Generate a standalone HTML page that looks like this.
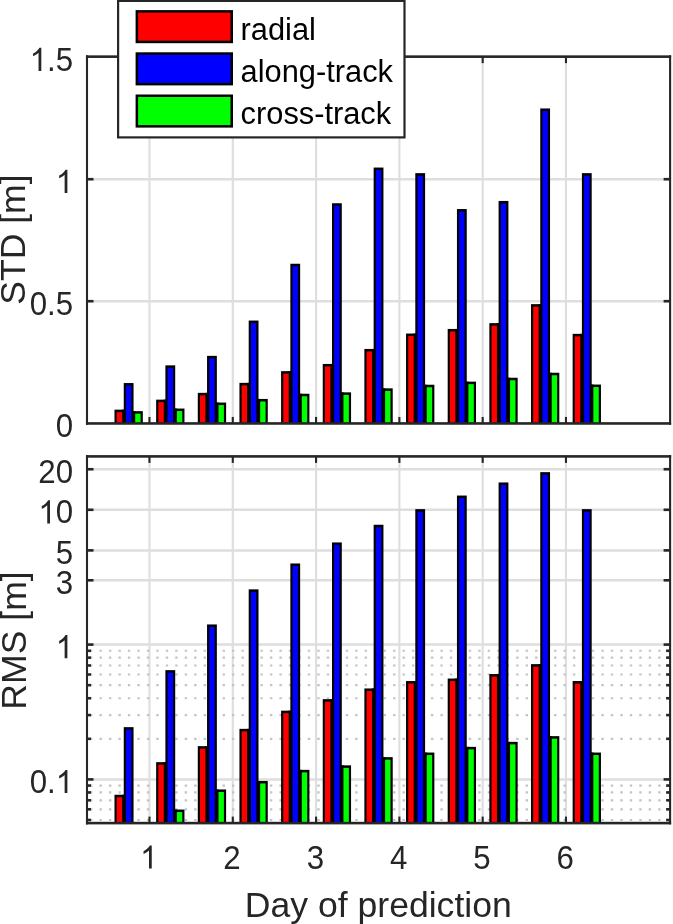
<!DOCTYPE html>
<html><head><meta charset="utf-8"><style>
html,body{margin:0;padding:0;background:#fff;}
body{width:673px;height:924px;overflow:hidden;font-family:"Liberation Sans",sans-serif;}
svg{display:block;will-change:transform;}
</style></head><body>
<svg width="673" height="924" viewBox="0 0 673 924">
<rect width="673" height="924" fill="#fff"/>
<line x1="149.47" y1="57.2" x2="149.47" y2="423.2" stroke="#dedede" stroke-width="2.1"/>
<line x1="232.78" y1="57.2" x2="232.78" y2="423.2" stroke="#dedede" stroke-width="2.1"/>
<line x1="316.07" y1="57.2" x2="316.07" y2="423.2" stroke="#dedede" stroke-width="2.1"/>
<line x1="399.38" y1="57.2" x2="399.38" y2="423.2" stroke="#dedede" stroke-width="2.1"/>
<line x1="482.68" y1="57.2" x2="482.68" y2="423.2" stroke="#dedede" stroke-width="2.1"/>
<line x1="565.97" y1="57.2" x2="565.97" y2="423.2" stroke="#dedede" stroke-width="2.1"/>
<line x1="87" y1="301.2" x2="670.1" y2="301.2" stroke="#dedede" stroke-width="2.5"/>
<line x1="87" y1="179.2" x2="670.1" y2="179.2" stroke="#dedede" stroke-width="2.5"/>
<rect x="114.49" y="409.65" width="9.8" height="13.55" fill="#000"/>
<rect x="123.75" y="383.05" width="9.8" height="40.15" fill="#000"/>
<rect x="133.01" y="411.15" width="9.8" height="12.05" fill="#000"/>
<rect x="121.89" y="409.65" width="4.26" height="13.55" fill="#000"/>
<rect x="131.15" y="411.15" width="4.26" height="12.05" fill="#000"/>
<rect x="116.69" y="412.15" width="5.4" height="11.05" fill="#ff0000"/>
<rect x="125.95" y="385.55" width="5.4" height="37.65" fill="#0000ff"/>
<rect x="135.21" y="413.65" width="5.4" height="9.55" fill="#00ff00"/>
<rect x="156.14" y="399.65" width="9.8" height="23.55" fill="#000"/>
<rect x="165.4" y="365.35" width="9.8" height="57.85" fill="#000"/>
<rect x="174.66" y="408.55" width="9.8" height="14.65" fill="#000"/>
<rect x="163.54" y="399.65" width="4.26" height="23.55" fill="#000"/>
<rect x="172.8" y="408.55" width="4.26" height="14.65" fill="#000"/>
<rect x="158.34" y="402.15" width="5.4" height="21.05" fill="#ff0000"/>
<rect x="167.6" y="367.85" width="5.4" height="55.35" fill="#0000ff"/>
<rect x="176.86" y="411.05" width="5.4" height="12.15" fill="#00ff00"/>
<rect x="197.79" y="392.85" width="9.8" height="30.35" fill="#000"/>
<rect x="207.05" y="355.85" width="9.8" height="67.35" fill="#000"/>
<rect x="216.31" y="402.55" width="9.8" height="20.65" fill="#000"/>
<rect x="205.19" y="392.85" width="4.26" height="30.35" fill="#000"/>
<rect x="214.45" y="402.55" width="4.26" height="20.65" fill="#000"/>
<rect x="199.99" y="395.35" width="5.4" height="27.85" fill="#ff0000"/>
<rect x="209.25" y="358.35" width="5.4" height="64.85" fill="#0000ff"/>
<rect x="218.51" y="405.05" width="5.4" height="18.15" fill="#00ff00"/>
<rect x="239.44" y="382.85" width="9.8" height="40.35" fill="#000"/>
<rect x="248.7" y="320.55" width="9.8" height="102.65" fill="#000"/>
<rect x="257.96" y="398.95" width="9.8" height="24.25" fill="#000"/>
<rect x="246.84" y="382.85" width="4.26" height="40.35" fill="#000"/>
<rect x="256.1" y="398.95" width="4.26" height="24.25" fill="#000"/>
<rect x="241.64" y="385.35" width="5.4" height="37.85" fill="#ff0000"/>
<rect x="250.9" y="323.05" width="5.4" height="100.15" fill="#0000ff"/>
<rect x="260.16" y="401.45" width="5.4" height="21.75" fill="#00ff00"/>
<rect x="281.09" y="371.15" width="9.8" height="52.05" fill="#000"/>
<rect x="290.35" y="263.75" width="9.8" height="159.45" fill="#000"/>
<rect x="299.61" y="393.75" width="9.8" height="29.45" fill="#000"/>
<rect x="288.49" y="371.15" width="4.26" height="52.05" fill="#000"/>
<rect x="297.75" y="393.75" width="4.26" height="29.45" fill="#000"/>
<rect x="283.29" y="373.65" width="5.4" height="49.55" fill="#ff0000"/>
<rect x="292.55" y="266.25" width="5.4" height="156.95" fill="#0000ff"/>
<rect x="301.81" y="396.25" width="5.4" height="26.95" fill="#00ff00"/>
<rect x="322.74" y="363.95" width="9.8" height="59.25" fill="#000"/>
<rect x="332" y="203.25" width="9.8" height="219.95" fill="#000"/>
<rect x="341.26" y="392.35" width="9.8" height="30.85" fill="#000"/>
<rect x="330.14" y="363.95" width="4.26" height="59.25" fill="#000"/>
<rect x="339.4" y="392.35" width="4.26" height="30.85" fill="#000"/>
<rect x="324.94" y="366.45" width="5.4" height="56.75" fill="#ff0000"/>
<rect x="334.2" y="205.75" width="5.4" height="217.45" fill="#0000ff"/>
<rect x="343.46" y="394.85" width="5.4" height="28.35" fill="#00ff00"/>
<rect x="364.39" y="348.95" width="9.8" height="74.25" fill="#000"/>
<rect x="373.65" y="167.55" width="9.8" height="255.65" fill="#000"/>
<rect x="382.91" y="388.35" width="9.8" height="34.85" fill="#000"/>
<rect x="371.79" y="348.95" width="4.26" height="74.25" fill="#000"/>
<rect x="381.05" y="388.35" width="4.26" height="34.85" fill="#000"/>
<rect x="366.59" y="351.45" width="5.4" height="71.75" fill="#ff0000"/>
<rect x="375.85" y="170.05" width="5.4" height="253.15" fill="#0000ff"/>
<rect x="385.11" y="390.85" width="5.4" height="32.35" fill="#00ff00"/>
<rect x="406.04" y="333.55" width="9.8" height="89.65" fill="#000"/>
<rect x="415.3" y="173.15" width="9.8" height="250.05" fill="#000"/>
<rect x="424.56" y="384.75" width="9.8" height="38.45" fill="#000"/>
<rect x="413.44" y="333.55" width="4.26" height="89.65" fill="#000"/>
<rect x="422.7" y="384.75" width="4.26" height="38.45" fill="#000"/>
<rect x="408.24" y="336.05" width="5.4" height="87.15" fill="#ff0000"/>
<rect x="417.5" y="175.65" width="5.4" height="247.55" fill="#0000ff"/>
<rect x="426.76" y="387.25" width="5.4" height="35.95" fill="#00ff00"/>
<rect x="447.69" y="328.95" width="9.8" height="94.25" fill="#000"/>
<rect x="456.95" y="209.05" width="9.8" height="214.15" fill="#000"/>
<rect x="466.21" y="381.65" width="9.8" height="41.55" fill="#000"/>
<rect x="455.09" y="328.95" width="4.26" height="94.25" fill="#000"/>
<rect x="464.35" y="381.65" width="4.26" height="41.55" fill="#000"/>
<rect x="449.89" y="331.45" width="5.4" height="91.75" fill="#ff0000"/>
<rect x="459.15" y="211.55" width="5.4" height="211.65" fill="#0000ff"/>
<rect x="468.41" y="384.15" width="5.4" height="39.05" fill="#00ff00"/>
<rect x="489.34" y="323.15" width="9.8" height="100.05" fill="#000"/>
<rect x="498.6" y="200.95" width="9.8" height="222.25" fill="#000"/>
<rect x="507.86" y="377.75" width="9.8" height="45.45" fill="#000"/>
<rect x="496.74" y="323.15" width="4.26" height="100.05" fill="#000"/>
<rect x="506" y="377.75" width="4.26" height="45.45" fill="#000"/>
<rect x="491.54" y="325.65" width="5.4" height="97.55" fill="#ff0000"/>
<rect x="500.8" y="203.45" width="5.4" height="219.75" fill="#0000ff"/>
<rect x="510.06" y="380.25" width="5.4" height="42.95" fill="#00ff00"/>
<rect x="530.99" y="304.15" width="9.8" height="119.05" fill="#000"/>
<rect x="540.25" y="108.45" width="9.8" height="314.75" fill="#000"/>
<rect x="549.51" y="372.75" width="9.8" height="50.45" fill="#000"/>
<rect x="538.39" y="304.15" width="4.26" height="119.05" fill="#000"/>
<rect x="547.65" y="372.75" width="4.26" height="50.45" fill="#000"/>
<rect x="533.19" y="306.65" width="5.4" height="116.55" fill="#ff0000"/>
<rect x="542.45" y="110.95" width="5.4" height="312.25" fill="#0000ff"/>
<rect x="551.71" y="375.25" width="5.4" height="47.95" fill="#00ff00"/>
<rect x="572.64" y="333.85" width="9.8" height="89.35" fill="#000"/>
<rect x="581.9" y="173.15" width="9.8" height="250.05" fill="#000"/>
<rect x="591.16" y="384.55" width="9.8" height="38.65" fill="#000"/>
<rect x="580.04" y="333.85" width="4.26" height="89.35" fill="#000"/>
<rect x="589.3" y="384.55" width="4.26" height="38.65" fill="#000"/>
<rect x="574.84" y="336.35" width="5.4" height="86.85" fill="#ff0000"/>
<rect x="584.1" y="175.65" width="5.4" height="247.55" fill="#0000ff"/>
<rect x="593.36" y="387.05" width="5.4" height="36.15" fill="#00ff00"/>
<rect x="85.95" y="55.35" width="585.2" height="2.6" fill="#262626"/>
<rect x="85.95" y="422.15" width="585.2" height="2.6" fill="#262626"/>
<rect x="85.95" y="55.35" width="2.1" height="369.4" fill="#262626"/>
<rect x="669.05" y="55.35" width="2.1" height="369.4" fill="#262626"/>
<line x1="149.47" y1="423.45" x2="149.47" y2="416.95" stroke="#262626" stroke-width="2.1"/>
<line x1="149.47" y1="56.65" x2="149.47" y2="63.15" stroke="#262626" stroke-width="2.1"/>
<line x1="232.78" y1="423.45" x2="232.78" y2="416.95" stroke="#262626" stroke-width="2.1"/>
<line x1="232.78" y1="56.65" x2="232.78" y2="63.15" stroke="#262626" stroke-width="2.1"/>
<line x1="316.07" y1="423.45" x2="316.07" y2="416.95" stroke="#262626" stroke-width="2.1"/>
<line x1="316.07" y1="56.65" x2="316.07" y2="63.15" stroke="#262626" stroke-width="2.1"/>
<line x1="399.38" y1="423.45" x2="399.38" y2="416.95" stroke="#262626" stroke-width="2.1"/>
<line x1="399.38" y1="56.65" x2="399.38" y2="63.15" stroke="#262626" stroke-width="2.1"/>
<line x1="482.68" y1="423.45" x2="482.68" y2="416.95" stroke="#262626" stroke-width="2.1"/>
<line x1="482.68" y1="56.65" x2="482.68" y2="63.15" stroke="#262626" stroke-width="2.1"/>
<line x1="565.97" y1="423.45" x2="565.97" y2="416.95" stroke="#262626" stroke-width="2.1"/>
<line x1="565.97" y1="56.65" x2="565.97" y2="63.15" stroke="#262626" stroke-width="2.1"/>
<line x1="87" y1="301.2" x2="93.5" y2="301.2" stroke="#262626" stroke-width="2.6"/>
<line x1="670.1" y1="301.2" x2="663.6" y2="301.2" stroke="#262626" stroke-width="2.6"/>
<line x1="87" y1="179.2" x2="93.5" y2="179.2" stroke="#262626" stroke-width="2.6"/>
<line x1="670.1" y1="179.2" x2="663.6" y2="179.2" stroke="#262626" stroke-width="2.6"/>
<line x1="149.47" y1="456.4" x2="149.47" y2="822.8" stroke="#dedede" stroke-width="2.1"/>
<line x1="232.78" y1="456.4" x2="232.78" y2="822.8" stroke="#dedede" stroke-width="2.1"/>
<line x1="316.07" y1="456.4" x2="316.07" y2="822.8" stroke="#dedede" stroke-width="2.1"/>
<line x1="399.38" y1="456.4" x2="399.38" y2="822.8" stroke="#dedede" stroke-width="2.1"/>
<line x1="482.68" y1="456.4" x2="482.68" y2="822.8" stroke="#dedede" stroke-width="2.1"/>
<line x1="565.97" y1="456.4" x2="565.97" y2="822.8" stroke="#dedede" stroke-width="2.1"/>
<line x1="87" y1="819.98" x2="670.1" y2="819.98" stroke="#c4c4c4" stroke-width="2.2" stroke-dasharray="2.4 7.07" stroke-dashoffset="-3"/>
<line x1="87" y1="809.31" x2="670.1" y2="809.31" stroke="#c4c4c4" stroke-width="2.2" stroke-dasharray="2.4 7.07" stroke-dashoffset="-3"/>
<line x1="87" y1="800.28" x2="670.1" y2="800.28" stroke="#c4c4c4" stroke-width="2.2" stroke-dasharray="2.4 7.07" stroke-dashoffset="-3"/>
<line x1="87" y1="792.46" x2="670.1" y2="792.46" stroke="#c4c4c4" stroke-width="2.2" stroke-dasharray="2.4 7.07" stroke-dashoffset="-3"/>
<line x1="87" y1="785.57" x2="670.1" y2="785.57" stroke="#c4c4c4" stroke-width="2.2" stroke-dasharray="2.4 7.07" stroke-dashoffset="-3"/>
<line x1="87" y1="738.82" x2="670.1" y2="738.82" stroke="#c4c4c4" stroke-width="2.2" stroke-dasharray="2.4 7.07" stroke-dashoffset="-3"/>
<line x1="87" y1="715.08" x2="670.1" y2="715.08" stroke="#c4c4c4" stroke-width="2.2" stroke-dasharray="2.4 7.07" stroke-dashoffset="-3"/>
<line x1="87" y1="698.24" x2="670.1" y2="698.24" stroke="#c4c4c4" stroke-width="2.2" stroke-dasharray="2.4 7.07" stroke-dashoffset="-3"/>
<line x1="87" y1="685.18" x2="670.1" y2="685.18" stroke="#c4c4c4" stroke-width="2.2" stroke-dasharray="2.4 7.07" stroke-dashoffset="-3"/>
<line x1="87" y1="674.51" x2="670.1" y2="674.51" stroke="#c4c4c4" stroke-width="2.2" stroke-dasharray="2.4 7.07" stroke-dashoffset="-3"/>
<line x1="87" y1="665.48" x2="670.1" y2="665.48" stroke="#c4c4c4" stroke-width="2.2" stroke-dasharray="2.4 7.07" stroke-dashoffset="-3"/>
<line x1="87" y1="657.66" x2="670.1" y2="657.66" stroke="#c4c4c4" stroke-width="2.2" stroke-dasharray="2.4 7.07" stroke-dashoffset="-3"/>
<line x1="87" y1="650.77" x2="670.1" y2="650.77" stroke="#c4c4c4" stroke-width="2.2" stroke-dasharray="2.4 7.07" stroke-dashoffset="-3"/>
<line x1="87" y1="779.4" x2="670.1" y2="779.4" stroke="#dedede" stroke-width="2.5"/>
<line x1="87" y1="644.6" x2="670.1" y2="644.6" stroke="#dedede" stroke-width="2.5"/>
<line x1="87" y1="580.28" x2="670.1" y2="580.28" stroke="#dedede" stroke-width="2.5"/>
<line x1="87" y1="550.38" x2="670.1" y2="550.38" stroke="#dedede" stroke-width="2.5"/>
<line x1="87" y1="509.8" x2="670.1" y2="509.8" stroke="#dedede" stroke-width="2.5"/>
<line x1="87" y1="469.22" x2="670.1" y2="469.22" stroke="#dedede" stroke-width="2.5"/>
<rect x="114.49" y="794.75" width="9.8" height="28.05" fill="#000"/>
<rect x="123.75" y="727.15" width="9.8" height="95.65" fill="#000"/>
<rect x="121.89" y="794.75" width="4.26" height="28.05" fill="#000"/>
<rect x="116.69" y="797.25" width="5.4" height="25.55" fill="#ff0000"/>
<rect x="125.95" y="729.65" width="5.4" height="93.15" fill="#0000ff"/>
<rect x="156.14" y="762.15" width="9.8" height="60.65" fill="#000"/>
<rect x="165.4" y="670.15" width="9.8" height="152.65" fill="#000"/>
<rect x="174.66" y="809.55" width="9.8" height="13.25" fill="#000"/>
<rect x="163.54" y="762.15" width="4.26" height="60.65" fill="#000"/>
<rect x="172.8" y="809.55" width="4.26" height="13.25" fill="#000"/>
<rect x="158.34" y="764.65" width="5.4" height="58.15" fill="#ff0000"/>
<rect x="167.6" y="672.65" width="5.4" height="150.15" fill="#0000ff"/>
<rect x="176.86" y="812.05" width="5.4" height="10.75" fill="#00ff00"/>
<rect x="197.79" y="746.15" width="9.8" height="76.65" fill="#000"/>
<rect x="207.05" y="624.45" width="9.8" height="198.35" fill="#000"/>
<rect x="216.31" y="789.45" width="9.8" height="33.35" fill="#000"/>
<rect x="205.19" y="746.15" width="4.26" height="76.65" fill="#000"/>
<rect x="214.45" y="789.45" width="4.26" height="33.35" fill="#000"/>
<rect x="199.99" y="748.65" width="5.4" height="74.15" fill="#ff0000"/>
<rect x="209.25" y="626.95" width="5.4" height="195.85" fill="#0000ff"/>
<rect x="218.51" y="791.95" width="5.4" height="30.85" fill="#00ff00"/>
<rect x="239.44" y="728.85" width="9.8" height="93.95" fill="#000"/>
<rect x="248.7" y="589.35" width="9.8" height="233.45" fill="#000"/>
<rect x="257.96" y="780.95" width="9.8" height="41.85" fill="#000"/>
<rect x="246.84" y="728.85" width="4.26" height="93.95" fill="#000"/>
<rect x="256.1" y="780.95" width="4.26" height="41.85" fill="#000"/>
<rect x="241.64" y="731.35" width="5.4" height="91.45" fill="#ff0000"/>
<rect x="250.9" y="591.85" width="5.4" height="230.95" fill="#0000ff"/>
<rect x="260.16" y="783.45" width="5.4" height="39.35" fill="#00ff00"/>
<rect x="281.09" y="710.65" width="9.8" height="112.15" fill="#000"/>
<rect x="290.35" y="563.45" width="9.8" height="259.35" fill="#000"/>
<rect x="299.61" y="769.85" width="9.8" height="52.95" fill="#000"/>
<rect x="288.49" y="710.65" width="4.26" height="112.15" fill="#000"/>
<rect x="297.75" y="769.85" width="4.26" height="52.95" fill="#000"/>
<rect x="283.29" y="713.15" width="5.4" height="109.65" fill="#ff0000"/>
<rect x="292.55" y="565.95" width="5.4" height="256.85" fill="#0000ff"/>
<rect x="301.81" y="772.35" width="5.4" height="50.45" fill="#00ff00"/>
<rect x="322.74" y="699.15" width="9.8" height="123.65" fill="#000"/>
<rect x="332" y="542.45" width="9.8" height="280.35" fill="#000"/>
<rect x="341.26" y="765.35" width="9.8" height="57.45" fill="#000"/>
<rect x="330.14" y="699.15" width="4.26" height="123.65" fill="#000"/>
<rect x="339.4" y="765.35" width="4.26" height="57.45" fill="#000"/>
<rect x="324.94" y="701.65" width="5.4" height="121.15" fill="#ff0000"/>
<rect x="334.2" y="544.95" width="5.4" height="277.85" fill="#0000ff"/>
<rect x="343.46" y="767.85" width="5.4" height="54.95" fill="#00ff00"/>
<rect x="364.39" y="688.45" width="9.8" height="134.35" fill="#000"/>
<rect x="373.65" y="524.75" width="9.8" height="298.05" fill="#000"/>
<rect x="382.91" y="757.15" width="9.8" height="65.65" fill="#000"/>
<rect x="371.79" y="688.45" width="4.26" height="134.35" fill="#000"/>
<rect x="381.05" y="757.15" width="4.26" height="65.65" fill="#000"/>
<rect x="366.59" y="690.95" width="5.4" height="131.85" fill="#ff0000"/>
<rect x="375.85" y="527.25" width="5.4" height="295.55" fill="#0000ff"/>
<rect x="385.11" y="759.65" width="5.4" height="63.15" fill="#00ff00"/>
<rect x="406.04" y="681.05" width="9.8" height="141.75" fill="#000"/>
<rect x="415.3" y="509.15" width="9.8" height="313.65" fill="#000"/>
<rect x="424.56" y="752.55" width="9.8" height="70.25" fill="#000"/>
<rect x="413.44" y="681.05" width="4.26" height="141.75" fill="#000"/>
<rect x="422.7" y="752.55" width="4.26" height="70.25" fill="#000"/>
<rect x="408.24" y="683.55" width="5.4" height="139.25" fill="#ff0000"/>
<rect x="417.5" y="511.65" width="5.4" height="311.15" fill="#0000ff"/>
<rect x="426.76" y="755.05" width="5.4" height="67.75" fill="#00ff00"/>
<rect x="447.69" y="678.55" width="9.8" height="144.25" fill="#000"/>
<rect x="456.95" y="495.55" width="9.8" height="327.25" fill="#000"/>
<rect x="466.21" y="746.85" width="9.8" height="75.95" fill="#000"/>
<rect x="455.09" y="678.55" width="4.26" height="144.25" fill="#000"/>
<rect x="464.35" y="746.85" width="4.26" height="75.95" fill="#000"/>
<rect x="449.89" y="681.05" width="5.4" height="141.75" fill="#ff0000"/>
<rect x="459.15" y="498.05" width="5.4" height="324.75" fill="#0000ff"/>
<rect x="468.41" y="749.35" width="5.4" height="73.45" fill="#00ff00"/>
<rect x="489.34" y="674.05" width="9.8" height="148.75" fill="#000"/>
<rect x="498.6" y="482.45" width="9.8" height="340.35" fill="#000"/>
<rect x="507.86" y="741.85" width="9.8" height="80.95" fill="#000"/>
<rect x="496.74" y="674.05" width="4.26" height="148.75" fill="#000"/>
<rect x="506" y="741.85" width="4.26" height="80.95" fill="#000"/>
<rect x="491.54" y="676.55" width="5.4" height="146.25" fill="#ff0000"/>
<rect x="500.8" y="484.95" width="5.4" height="337.85" fill="#0000ff"/>
<rect x="510.06" y="744.35" width="5.4" height="78.45" fill="#00ff00"/>
<rect x="530.99" y="664.15" width="9.8" height="158.65" fill="#000"/>
<rect x="540.25" y="472.15" width="9.8" height="350.65" fill="#000"/>
<rect x="549.51" y="736.15" width="9.8" height="86.65" fill="#000"/>
<rect x="538.39" y="664.15" width="4.26" height="158.65" fill="#000"/>
<rect x="547.65" y="736.15" width="4.26" height="86.65" fill="#000"/>
<rect x="533.19" y="666.65" width="5.4" height="156.15" fill="#ff0000"/>
<rect x="542.45" y="474.65" width="5.4" height="348.15" fill="#0000ff"/>
<rect x="551.71" y="738.65" width="5.4" height="84.15" fill="#00ff00"/>
<rect x="572.64" y="681.05" width="9.8" height="141.75" fill="#000"/>
<rect x="581.9" y="509.15" width="9.8" height="313.65" fill="#000"/>
<rect x="591.16" y="752.55" width="9.8" height="70.25" fill="#000"/>
<rect x="580.04" y="681.05" width="4.26" height="141.75" fill="#000"/>
<rect x="589.3" y="752.55" width="4.26" height="70.25" fill="#000"/>
<rect x="574.84" y="683.55" width="5.4" height="139.25" fill="#ff0000"/>
<rect x="584.1" y="511.65" width="5.4" height="311.15" fill="#0000ff"/>
<rect x="593.36" y="755.05" width="5.4" height="67.75" fill="#00ff00"/>
<rect x="85.95" y="455.1" width="585.2" height="2.6" fill="#262626"/>
<rect x="85.95" y="821.8" width="585.2" height="2.6" fill="#262626"/>
<rect x="85.95" y="455.1" width="2.1" height="369.3" fill="#262626"/>
<rect x="669.05" y="455.1" width="2.1" height="369.3" fill="#262626"/>
<line x1="149.47" y1="823.1" x2="149.47" y2="816.6" stroke="#262626" stroke-width="2.1"/>
<line x1="149.47" y1="456.4" x2="149.47" y2="462.9" stroke="#262626" stroke-width="2.1"/>
<line x1="232.78" y1="823.1" x2="232.78" y2="816.6" stroke="#262626" stroke-width="2.1"/>
<line x1="232.78" y1="456.4" x2="232.78" y2="462.9" stroke="#262626" stroke-width="2.1"/>
<line x1="316.07" y1="823.1" x2="316.07" y2="816.6" stroke="#262626" stroke-width="2.1"/>
<line x1="316.07" y1="456.4" x2="316.07" y2="462.9" stroke="#262626" stroke-width="2.1"/>
<line x1="399.38" y1="823.1" x2="399.38" y2="816.6" stroke="#262626" stroke-width="2.1"/>
<line x1="399.38" y1="456.4" x2="399.38" y2="462.9" stroke="#262626" stroke-width="2.1"/>
<line x1="482.68" y1="823.1" x2="482.68" y2="816.6" stroke="#262626" stroke-width="2.1"/>
<line x1="482.68" y1="456.4" x2="482.68" y2="462.9" stroke="#262626" stroke-width="2.1"/>
<line x1="565.97" y1="823.1" x2="565.97" y2="816.6" stroke="#262626" stroke-width="2.1"/>
<line x1="565.97" y1="456.4" x2="565.97" y2="462.9" stroke="#262626" stroke-width="2.1"/>
<line x1="87" y1="779.4" x2="93.5" y2="779.4" stroke="#262626" stroke-width="2.6"/>
<line x1="670.1" y1="779.4" x2="663.6" y2="779.4" stroke="#262626" stroke-width="2.6"/>
<line x1="87" y1="644.6" x2="93.5" y2="644.6" stroke="#262626" stroke-width="2.6"/>
<line x1="670.1" y1="644.6" x2="663.6" y2="644.6" stroke="#262626" stroke-width="2.6"/>
<line x1="87" y1="580.28" x2="93.5" y2="580.28" stroke="#262626" stroke-width="2.6"/>
<line x1="670.1" y1="580.28" x2="663.6" y2="580.28" stroke="#262626" stroke-width="2.6"/>
<line x1="87" y1="550.38" x2="93.5" y2="550.38" stroke="#262626" stroke-width="2.6"/>
<line x1="670.1" y1="550.38" x2="663.6" y2="550.38" stroke="#262626" stroke-width="2.6"/>
<line x1="87" y1="509.8" x2="93.5" y2="509.8" stroke="#262626" stroke-width="2.6"/>
<line x1="670.1" y1="509.8" x2="663.6" y2="509.8" stroke="#262626" stroke-width="2.6"/>
<line x1="87" y1="469.22" x2="93.5" y2="469.22" stroke="#262626" stroke-width="2.6"/>
<line x1="670.1" y1="469.22" x2="663.6" y2="469.22" stroke="#262626" stroke-width="2.6"/>
<line x1="87" y1="819.98" x2="91" y2="819.98" stroke="#262626" stroke-width="2.6"/>
<line x1="670.1" y1="819.98" x2="666.1" y2="819.98" stroke="#262626" stroke-width="2.6"/>
<line x1="87" y1="809.31" x2="91" y2="809.31" stroke="#262626" stroke-width="2.6"/>
<line x1="670.1" y1="809.31" x2="666.1" y2="809.31" stroke="#262626" stroke-width="2.6"/>
<line x1="87" y1="800.28" x2="91" y2="800.28" stroke="#262626" stroke-width="2.6"/>
<line x1="670.1" y1="800.28" x2="666.1" y2="800.28" stroke="#262626" stroke-width="2.6"/>
<line x1="87" y1="792.46" x2="91" y2="792.46" stroke="#262626" stroke-width="2.6"/>
<line x1="670.1" y1="792.46" x2="666.1" y2="792.46" stroke="#262626" stroke-width="2.6"/>
<line x1="87" y1="785.57" x2="91" y2="785.57" stroke="#262626" stroke-width="2.6"/>
<line x1="670.1" y1="785.57" x2="666.1" y2="785.57" stroke="#262626" stroke-width="2.6"/>
<line x1="87" y1="738.82" x2="91" y2="738.82" stroke="#262626" stroke-width="2.6"/>
<line x1="670.1" y1="738.82" x2="666.1" y2="738.82" stroke="#262626" stroke-width="2.6"/>
<line x1="87" y1="715.08" x2="91" y2="715.08" stroke="#262626" stroke-width="2.6"/>
<line x1="670.1" y1="715.08" x2="666.1" y2="715.08" stroke="#262626" stroke-width="2.6"/>
<line x1="87" y1="698.24" x2="91" y2="698.24" stroke="#262626" stroke-width="2.6"/>
<line x1="670.1" y1="698.24" x2="666.1" y2="698.24" stroke="#262626" stroke-width="2.6"/>
<line x1="87" y1="685.18" x2="91" y2="685.18" stroke="#262626" stroke-width="2.6"/>
<line x1="670.1" y1="685.18" x2="666.1" y2="685.18" stroke="#262626" stroke-width="2.6"/>
<line x1="87" y1="674.51" x2="91" y2="674.51" stroke="#262626" stroke-width="2.6"/>
<line x1="670.1" y1="674.51" x2="666.1" y2="674.51" stroke="#262626" stroke-width="2.6"/>
<line x1="87" y1="665.48" x2="91" y2="665.48" stroke="#262626" stroke-width="2.6"/>
<line x1="670.1" y1="665.48" x2="666.1" y2="665.48" stroke="#262626" stroke-width="2.6"/>
<line x1="87" y1="657.66" x2="91" y2="657.66" stroke="#262626" stroke-width="2.6"/>
<line x1="670.1" y1="657.66" x2="666.1" y2="657.66" stroke="#262626" stroke-width="2.6"/>
<line x1="87" y1="650.77" x2="91" y2="650.77" stroke="#262626" stroke-width="2.6"/>
<line x1="670.1" y1="650.77" x2="666.1" y2="650.77" stroke="#262626" stroke-width="2.6"/>
<g transform="translate(73.1,0) scale(0.965,1) translate(-73.1,0)">
<text x="55.09" y="436.9" font-size="32.4" font-family="Liberation Sans, sans-serif" fill="#262626">0</text>
</g>
<g transform="translate(73.1,0) scale(0.965,1) translate(-73.1,0)">
<text x="28.06" y="314.9" font-size="32.4" font-family="Liberation Sans, sans-serif" fill="#262626">0.5</text>
</g>
<g transform="translate(73.1,0) scale(0.965,1) translate(-73.1,0)">
<path transform="translate(55.09,192.9) scale(0.03240,-0.03240)" d="M373 0H285V560Q240 517 186 487Q137 459 110 452V537Q175 568 232 617Q289 666 313 716H373Z" fill="#262626"/>
</g>
<g transform="translate(73.1,0) scale(0.965,1) translate(-73.1,0)">
<path transform="translate(28.06,70.9) scale(0.03240,-0.03240)" d="M373 0H285V560Q240 517 186 487Q137 459 110 452V537Q175 568 232 617Q289 666 313 716H373Z" fill="#262626"/>
<text x="46.08" y="70.9" font-size="32.4" font-family="Liberation Sans, sans-serif" fill="#262626">.5</text>
</g>
<g transform="translate(73.1,0) scale(0.965,1) translate(-73.1,0)">
<text x="28.06" y="793.1" font-size="32.4" font-family="Liberation Sans, sans-serif" fill="#262626">0.</text>
<path transform="translate(55.09,793.1) scale(0.03240,-0.03240)" d="M373 0H285V560Q240 517 186 487Q137 459 110 452V537Q175 568 232 617Q289 666 313 716H373Z" fill="#262626"/>
</g>
<g transform="translate(73.1,0) scale(0.965,1) translate(-73.1,0)">
<path transform="translate(55.09,658.3) scale(0.03240,-0.03240)" d="M373 0H285V560Q240 517 186 487Q137 459 110 452V537Q175 568 232 617Q289 666 313 716H373Z" fill="#262626"/>
</g>
<g transform="translate(73.1,0) scale(0.965,1) translate(-73.1,0)">
<text x="55.09" y="593.98" font-size="32.4" font-family="Liberation Sans, sans-serif" fill="#262626">3</text>
</g>
<g transform="translate(73.1,0) scale(0.965,1) translate(-73.1,0)">
<text x="55.09" y="564.08" font-size="32.4" font-family="Liberation Sans, sans-serif" fill="#262626">5</text>
</g>
<g transform="translate(73.1,0) scale(0.965,1) translate(-73.1,0)">
<path transform="translate(37.07,523.5) scale(0.03240,-0.03240)" d="M373 0H285V560Q240 517 186 487Q137 459 110 452V537Q175 568 232 617Q289 666 313 716H373Z" fill="#262626"/>
<text x="55.09" y="523.5" font-size="32.4" font-family="Liberation Sans, sans-serif" fill="#262626">0</text>
</g>
<g transform="translate(73.1,0) scale(0.965,1) translate(-73.1,0)">
<text x="37.07" y="482.92" font-size="32.4" font-family="Liberation Sans, sans-serif" fill="#262626">20</text>
</g>
<g transform="translate(148.78,0) scale(0.965,1) translate(-148.78,0)">
<path transform="translate(139.77,868.6) scale(0.03240,-0.03240)" d="M373 0H285V560Q240 517 186 487Q137 459 110 452V537Q175 568 232 617Q289 666 313 716H373Z" fill="#262626"/>
</g>
<g transform="translate(232.08,0) scale(0.965,1) translate(-232.08,0)">
<text x="223.07" y="868.6" font-size="32.4" font-family="Liberation Sans, sans-serif" fill="#262626">2</text>
</g>
<g transform="translate(315.38,0) scale(0.965,1) translate(-315.38,0)">
<text x="306.37" y="868.6" font-size="32.4" font-family="Liberation Sans, sans-serif" fill="#262626">3</text>
</g>
<g transform="translate(398.68,0) scale(0.965,1) translate(-398.68,0)">
<text x="389.67" y="868.6" font-size="32.4" font-family="Liberation Sans, sans-serif" fill="#262626">4</text>
</g>
<g transform="translate(481.98,0) scale(0.965,1) translate(-481.98,0)">
<text x="472.97" y="868.6" font-size="32.4" font-family="Liberation Sans, sans-serif" fill="#262626">5</text>
</g>
<g transform="translate(565.27,0) scale(0.965,1) translate(-565.27,0)">
<text x="556.27" y="868.6" font-size="32.4" font-family="Liberation Sans, sans-serif" fill="#262626">6</text>
</g>
<text x="378.3" y="916.9" font-size="35.6" text-anchor="middle" font-family="Liberation Sans, sans-serif" fill="#262626">Day of prediction</text>
<text transform="translate(25.3,239.6) rotate(-90)" font-size="35.6" text-anchor="middle" font-family="Liberation Sans, sans-serif" fill="#262626">STD [m]</text>
<text transform="translate(25.6,640.5) rotate(-90)" font-size="35.6" text-anchor="middle" font-family="Liberation Sans, sans-serif" fill="#262626">RMS [m]</text>
<rect x="118.1" y="0.9" width="286.4" height="136.5" fill="#fff" stroke="#262626" stroke-width="2.2"/>
<rect x="136.85" y="11.35" width="94.9" height="30.6" fill="#ff0000" stroke="#000" stroke-width="2.5"/>
<text x="240.6" y="39.9" font-size="30.8" font-family="Liberation Sans, sans-serif" fill="#000">radial</text>
<rect x="136.85" y="53.55" width="94.9" height="30.6" fill="#0000ff" stroke="#000" stroke-width="2.5"/>
<text x="240.6" y="81.7" font-size="30.8" font-family="Liberation Sans, sans-serif" fill="#000">along-track</text>
<rect x="136.85" y="95.75" width="94.9" height="30.6" fill="#00ff00" stroke="#000" stroke-width="2.5"/>
<text x="240.6" y="123.5" font-size="30.8" font-family="Liberation Sans, sans-serif" fill="#000">cross-track</text>
</svg>
</body></html>
